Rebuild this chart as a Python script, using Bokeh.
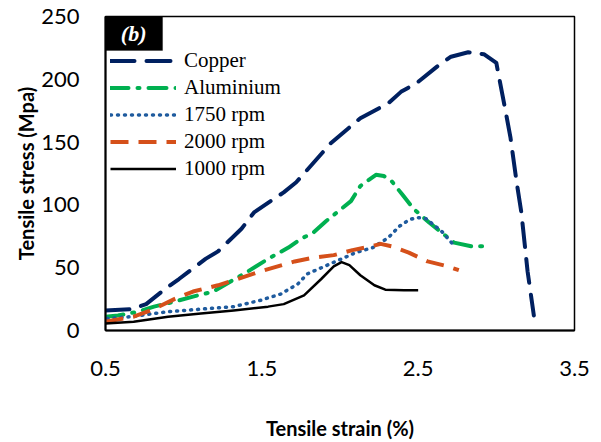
from bokeh.plotting import figure
from bokeh.models import FixedTicker, Legend, LegendItem, BoxAnnotation, Label
from bokeh.embed import file_html
from bokeh.resources import INLINE

# ---- data ----
copper_x = [0.5, 0.67, 0.76, 0.88, 0.97, 1.14, 1.22, 1.37, 1.45, 1.64, 1.72, 1.94, 2.13, 2.31, 2.39, 2.49, 2.63, 2.71, 2.82, 2.92, 3.00, 3.04, 3.06, 3.09, 3.13, 3.16, 3.20, 3.24]
copper_y = [16, 17, 21, 33, 41, 57, 63, 81, 94, 110, 118, 149, 169, 181, 190, 197, 211, 218, 221.5, 220, 213, 187, 174, 154, 118, 94, 47, 12]

alu_x = [0.5, 0.58, 0.71, 0.81, 0.94, 1.06, 1.19, 1.30, 1.41, 1.54, 1.67, 1.75, 1.83, 1.91, 2.01, 2.07, 2.13, 2.23, 2.28, 2.33, 2.40, 2.47, 2.57, 2.66, 2.73, 2.84, 2.95]
alu_y = [11, 12, 15, 19, 23, 27, 31, 39, 47, 57, 66, 73, 78, 87, 97, 103, 115, 124, 123, 119, 108, 97, 86, 77, 70, 67, 67]

r1750_x = [0.51, 0.66, 0.90, 1.11, 1.32, 1.49, 1.62, 1.73, 1.79, 1.90, 2.01, 2.10, 2.21, 2.31, 2.38, 2.44, 2.49, 2.55, 2.60, 2.65, 2.72]
r1750_y = [9.5, 11, 15, 17, 19, 24, 29, 37, 45, 51, 57, 62, 66, 74, 83, 88, 90, 89, 84, 79, 69]

r2000_x = [0.5, 0.68, 0.79, 0.94, 1.06, 1.22, 1.32, 1.49, 1.71, 1.83, 1.96, 2.08, 2.20, 2.26, 2.33, 2.44, 2.56, 2.69, 2.76]
r2000_y = [7, 11, 16, 25, 31, 36, 40, 47, 55, 58, 60, 64, 67, 69, 67, 62, 55, 51, 48]

r1000_x = [0.5, 0.68, 0.90, 1.11, 1.32, 1.54, 1.64, 1.77, 1.88, 1.96, 2.01, 2.06, 2.13, 2.22, 2.29, 2.41, 2.50]
r1000_y = [5.5, 7, 11, 13.5, 16, 19, 21, 28, 41, 51, 54.5, 52, 44, 36, 32.5, 32, 32]

x_ticks = [0.5, 1.5, 2.5, 3.5]
y_ticks = [0, 50, 100, 150, 200, 250]

p = figure(width=601, height=442, x_range=(0.5, 3.5), y_range=(0, 250),
           output_backend="svg", toolbar_location=None,
           min_border_left=105, min_border_right=27, min_border_top=16, min_border_bottom=110)

p.xgrid.visible = False
p.ygrid.visible = False
p.outline_line_color = "black"
p.outline_line_width = 1.5
p.outline_line_alpha = 1.0

for ax in (p.xaxis[0], p.yaxis[0]):
    ax.axis_line_color = "black"
    ax.axis_line_width = 2
    ax.major_tick_line_color = None
    ax.minor_tick_line_color = None
    ax.major_tick_out = 0
    ax.minor_tick_out = 0
    ax.major_label_text_font = "Lato"
    ax.major_label_text_font_size = "22px"
    ax.major_label_text_color = "black"
    ax.axis_label_text_font = "Lato"
    ax.axis_label_text_font_style = "bold"
    ax.axis_label_text_font_size = "20px"
    ax.axis_label_text_color = "black"

p.xaxis.ticker = FixedTicker(ticks=x_ticks)
p.yaxis.ticker = FixedTicker(ticks=y_ticks)
p.xaxis.major_label_overrides = {t: f"{t}" for t in x_ticks}
p.xaxis.major_label_standoff = 30
p.yaxis.major_label_standoff = 26
p.xaxis.axis_label = "Tensile strain (%)"
p.yaxis.axis_label = "Tensile stress (Mpa)"
p.xaxis.axis_label_standoff = 37
p.yaxis.axis_label_standoff = 0

l_cu = p.line(copper_x, copper_y, line_color="#002060", line_width=4, line_dash="24 12", line_cap="round", line_join="round")
l_al = p.line(alu_x, alu_y, line_color="#00B050", line_width=4, line_dash="18 9 2 9", line_cap="round", line_join="round")
l_17 = p.line(r1750_x, r1750_y, line_color="#1F5B9E", line_width=3.5, line_dash="1 6", line_cap="round", line_join="round")
l_20 = p.line(r2000_x, r2000_y, line_color="#D5501A", line_width=4, line_dash="18 10", line_join="round")
l_10 = p.line(r1000_x, r1000_y, line_color="black", line_width=2.5, line_join="round")

legend = Legend(items=[
    LegendItem(label="Copper", renderers=[l_cu]),
    LegendItem(label="Aluminium", renderers=[l_al]),
    LegendItem(label="1750 rpm", renderers=[l_17]),
    LegendItem(label="2000 rpm", renderers=[l_20]),
    LegendItem(label="1000 rpm", renderers=[l_10]),
], location=(5, 148))
legend.border_line_alpha = 0
legend.background_fill_alpha = 0
legend.padding = 0
legend.margin = 0
legend.spacing = 0
legend.glyph_width = 66
legend.glyph_height = 27
legend.label_height = 27
legend.label_standoff = 8
legend.label_text_font = "Liberation Serif"
legend.label_text_font_size = "21px"
legend.label_text_color = "black"
p.add_layout(legend)

# "(b)" panel tag
tag = BoxAnnotation(left=0.5, right=0.865, top=250, bottom=223,
                    fill_color="black", fill_alpha=1.0, line_color="black")
p.add_layout(tag)
p.add_layout(Label(x=0.68, y=236.5, text="(b)", text_color="white",
                   text_font="Liberation Serif", text_font_style="bold italic",
                   text_font_size="22px", text_align="center", text_baseline="middle"))

open("out.html", "w").write(file_html(p, INLINE))
